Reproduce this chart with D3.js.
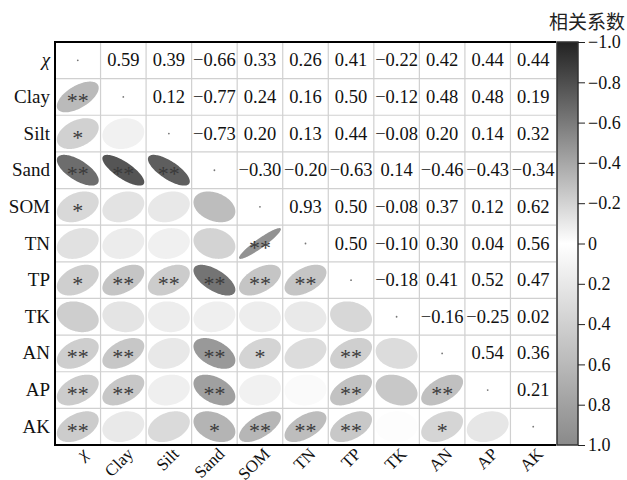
<!DOCTYPE html>
<meta charset="utf-8">
<script src="https://cdn.jsdelivr.net/npm/d3@7"></script>
<style>
body{margin:0;background:#fff;}
</style>
<body>
<script>
// variables
var labels=["χ","Clay","Silt","Sand","SOM","TN","TP","TK","AN","AP","AK"];
// upper triangle: row i, columns i+1..end
var upper=[
 [0.59,0.39,-0.66,0.33,0.26,0.41,-0.22,0.42,0.44,0.44],
 [0.12,-0.77,0.24,0.16,0.50,-0.12,0.48,0.48,0.19],
 [-0.73,0.20,0.13,0.44,-0.08,0.20,0.14,0.32],
 [-0.30,-0.20,-0.63,0.14,-0.46,-0.43,-0.34],
 [0.93,0.50,-0.08,0.37,0.12,0.62],
 [0.50,-0.10,0.30,0.04,0.56],
 [-0.18,0.41,0.52,0.47],
 [-0.16,-0.25,0.02],
 [0.54,0.36],
 [0.21],
 []
];
// significance marks, lower triangle: row i, columns 0..i-1
var stars=[
 [],
 ["**"],
 ["*",""],
 ["**","**","**"],
 ["*","","",""],
 ["","","","","**"],
 ["*","**","**","**","**","**"],
 ["","","","","","",""],
 ["**","**","","**","*","","**",""],
 ["**","**","","**","","","**","","**"],
 ["**","","","*","**","**","**","","*",""]
];
var legendTicks=[-1,-0.8,-0.6,-0.4,-0.2,0,0.2,0.4,0.6,0.8,1];

var n=labels.length;
function corr(i,j){
  if(i==j) return 1;
  if(j>i) return upper[i][j-i-1];
  return upper[j][i-j-1];
}

var W=627,H=480;
var ml=55,mt=42,pw=501,ph=403;
var serif="'Liberation Serif','Times New Roman',serif";

var svg=d3.select("body").append("svg").attr("width",W).attr("height",H)
  .style("font-family",serif);

var x=d3.scaleBand().domain(d3.range(n)).range([ml,ml+pw]);
var y=d3.scaleBand().domain(d3.range(n)).range([mt,mt+ph]);
var color=d3.scaleLinear().domain([-1,0,1]).range(["#222222","#ffffff","#8a8a8a"]);

var cw=x.bandwidth(),ch=y.bandwidth();

// grid
var grid=svg.append("g");
d3.range(1,n).forEach(function(k){
  grid.append("line").attr("x1",x(k)).attr("x2",x(k)).attr("y1",mt).attr("y2",mt+ph)
    .attr("stroke","#d0d0d0").attr("stroke-width",1.2);
  grid.append("line").attr("x1",ml).attr("x2",ml+pw).attr("y1",y(k)).attr("y2",y(k))
    .attr("stroke","#d0d0d0").attr("stroke-width",1.2);
});

function ellipsePath(r,cx,cy,rx,ry){
  var d=Math.acos(r),pts=[];
  for(var t=0;t<=2*Math.PI+0.001;t+=Math.PI/60){
    pts.push([cx+rx*Math.cos(t+d/2),cy-ry*Math.cos(t-d/2)]);
  }
  return d3.line()(pts)+"Z";
}

var cells=[];
for(var i=0;i<n;i++)for(var j=0;j<n;j++)cells.push({i:i,j:j,r:corr(i,j)});

var g=svg.append("g");
// lower: ellipses
g.selectAll("path.ell").data(cells.filter(function(d){return d.j<d.i;})).enter()
  .append("path").attr("class","ell")
  .attr("d",function(d){return ellipsePath(d.r,x(d.j)+cw/2,y(d.i)+ch/2,cw*0.46,ch*0.42);})
  .attr("fill",function(d){return color(d.r);});
g.selectAll("text.star").data(cells.filter(function(d){return d.j<d.i;})).enter()
  .append("text").attr("class","star")
  .attr("x",function(d){return x(d.j)+cw/2;})
  .attr("y",function(d){return y(d.i)+ch/2+11;})
  .attr("text-anchor","middle").attr("font-size",22).attr("fill","#3a3a3a")
  .style("font-family",serif)
  .text(function(d){return stars[d.i][d.j];});
// diagonal
g.selectAll("circle.diag").data(cells.filter(function(d){return d.j==d.i;})).enter()
  .append("circle").attr("cx",function(d){return x(d.j)+cw/2;}).attr("cy",function(d){return y(d.i)+ch/2;})
  .attr("r",0.9).attr("fill","#777");
// upper: numbers
g.selectAll("text.num").data(cells.filter(function(d){return d.j>d.i;})).enter()
  .append("text").attr("class","num")
  .attr("x",function(d){return x(d.j)+cw/2;})
  .attr("y",function(d){return y(d.i)+ch/2+6;})
  .attr("text-anchor","middle").attr("font-size",18.5).attr("fill","#111")
  .style("font-family",serif)
  .text(function(d){return d.r<0?"\u2212"+d3.format(".2f")(-d.r):d3.format(".2f")(d.r);});

// frame
svg.append("path").attr("d","M"+(ml+pw)+","+mt+"H"+ml+"V"+(mt+ph)+"H"+(ml+pw))
  .attr("fill","none").attr("stroke","#000").attr("stroke-width",2);

// row labels
svg.selectAll("text.rl").data(labels).enter().append("text")
  .attr("x",ml-5).attr("y",function(d,i){return y(i)+ch/2+6;})
  .attr("text-anchor","end").attr("font-size",19).attr("fill","#111")
  .style("font-family",serif)
  .attr("font-style",function(d,i){return i==0?"italic":null;})
  .text(function(d){return d;});
// column labels
svg.selectAll("text.cl").data(labels).enter().append("text")
  .attr("transform",function(d,i){return "translate("+(x(i)+cw/2+11)+","+(mt+ph+10)+") rotate(-45)";})
  .attr("text-anchor","end").attr("font-size",17).attr("fill","#111")
  .style("font-family",serif)
  .attr("font-style",function(d,i){return i==0?"italic":null;})
  .text(function(d){return d;});

// colour bar
var defs=svg.append("defs");
var grad=defs.append("linearGradient").attr("id","cb").attr("x1",0).attr("x2",0).attr("y1",0).attr("y2",1);
legendTicks.forEach(function(v){
  grad.append("stop").attr("offset",(v+1)/2).attr("stop-color",color(v));
});
var cbx=557,cbw=21;
var ly=d3.scaleLinear().domain([-1,1]).range([mt,mt+ph]);
svg.append("rect").attr("x",cbx).attr("y",mt).attr("width",cbw).attr("height",ph)
  .attr("fill","url(#cb)").attr("stroke","#333").attr("stroke-width",1.5);
var axis=d3.axisRight(ly).tickValues(legendTicks).tickSize(7).tickPadding(3)
  .tickFormat(function(v){return v==0?"0":(v<0?"\u2212"+d3.format(".1f")(-v):d3.format(".1f")(v));});
var ag=svg.append("g").attr("transform","translate("+(cbx+cbw)+",0)").call(axis);
ag.attr("font-family",null);
ag.select(".domain").remove();
ag.selectAll("line").attr("stroke","#222");
ag.selectAll("text").attr("font-size",18).style("font-family",serif).attr("fill","#111");
svg.append("text").attr("x",625).attr("y",29).attr("text-anchor","end")
  .attr("font-size",19).style("font-family","'Noto Sans CJK SC'").attr("fill","#222").text("相关系数");
</script>
</body>
